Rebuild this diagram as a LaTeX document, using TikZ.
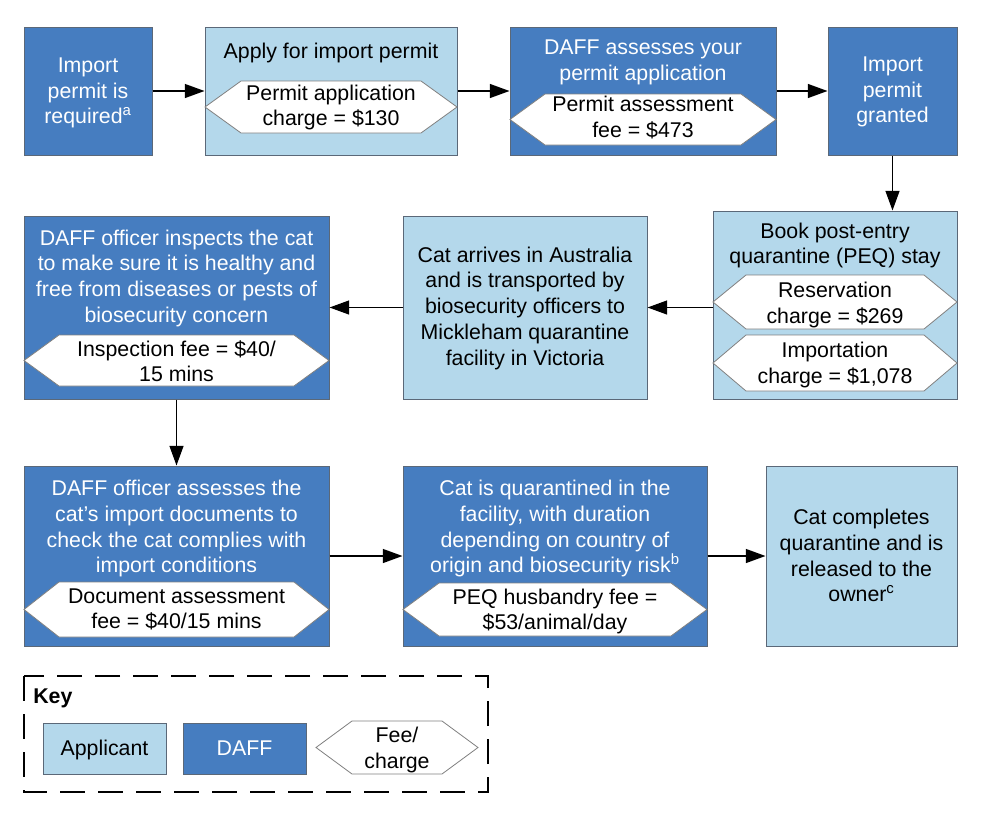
\documentclass[tikz,border=0pt]{standalone}
\usepackage{fontspec}
\setmainfont{Liberation Sans}
\usetikzlibrary{arrows.meta,fit}
\definecolor{daff}{HTML}{467DC0}
\definecolor{appl}{HTML}{B4D8EB}
\definecolor{bord}{HTML}{5B6878}
\definecolor{hexb}{HTML}{808080}
\newcommand\fs{\fontsize{16}{19.3}\selectfont}
\newcommand\fst{\rule{0pt}{13.51pt}}
\def\sh{15}
% x1, y1, x2, y2, inset
\newcommand\hexfee[5]{%
  \draw[hexs] (#1,{(#2+#4)/2}) -- (#1+#5,#2) -- (#3-#5,#2) -- (#3,{(#2+#4)/2})
    -- (#3-#5,#4) -- (#1+#5,#4) -- cycle;}
\begin{document}
\begin{tikzpicture}[x=0.75pt,y=-0.75pt,
  dbox/.style={draw=bord, line width=0.75pt, fill=daff, inner sep=0pt},
  abox/.style={draw=bord, line width=0.75pt, fill=appl, inner sep=0pt},
  hexs/.style={draw=hexb, line width=0.6pt, fill=white},
  tx/.style={anchor=north, inner sep=0pt, align=center, font=\fs, execute at begin node=\fst},
  wt/.style={tx, text=white},
  bt/.style={tx, text=black},
  flow/.style={line width=1.1pt, -{Triangle[length=14.8pt,width=10.5pt]}}]
\fill[white] (0,0) rectangle (982,821);
\useasboundingbox (0,0) rectangle (982,821);

% ---------- row 1 ----------
\node[dbox, fit={(24,27)(152,155)}] (A) {};
\node[abox, fit={(205,27)(457,155)}] (B) {};
\node[dbox, fit={(510,27)(776,155)}] (C) {};
\node[dbox, fit={(828,27)(957,155)}] (D) {};
% ---------- row 2 ----------
\node[abox, fit={(713,211)(957,399)}] (E) {};
\node[abox, fit={(403,216)(647,399)}] (F) {};
\node[dbox, fit={(24,216)(329,399)}] (G) {};
% ---------- row 3 ----------
\node[dbox, fit={(24,466)(329,646)}] (H) {};
\node[dbox, fit={(403,466)(707,646)}] (I) {};
\node[abox, fit={(766,466)(957,646)}] (J) {};

% hexagons
\hexfee{205}{81}{457}{133}{36}
\hexfee{510}{94}{776}{145}{35}
\hexfee{713}{275}{957}{329}{33}
\hexfee{713}{335}{957}{391}{33}
\hexfee{24}{335}{329}{386}{35}
\hexfee{24}{582}{329}{637}{35}
\hexfee{403}{583}{707}{636}{36}

% texts
\node[wt] (tA) at (88,72.5-\sh) {Import\\permit is\\required\textsuperscript{a}};
\node[bt] (tB) at (331,55-\sh) {Apply for import permit};
\node[bt] (hB) at (331,99.5-\sh) {Permit application\\charge = \$130};
\node[wt] (tC) at (643,55-\sh) {DAFF assesses your\\permit application};
\node[bt] (hC) at (643,111-\sh) {Permit assessment\\fee = \$473};
\node[wt] (tD) at (892.5,71.5-\sh) {Import\\permit\\granted};
\node[bt] (tE) at (835,237.3-\sh) {Book post-entry\\quarantine (PEQ) stay};
\node[bt] (hE1) at (835,296.7-\sh) {Reservation\\charge = \$269};
\node[bt] (hE2) at (835,357-\sh) {Importation\\charge = \$1,078};
\node[bt] (tF) at (525,261.5-\sh) {Cat arrives in Australia\\and is transported by\\biosecurity officers to\\Mickleham quarantine\\facility in Victoria};
\node[wt] (tG) at (176.5,244.3-\sh) {DAFF officer inspects the cat\\to make sure it is healthy and\\free from diseases or pests of\\biosecurity concern};
\node[bt] (hG) at (176.5,355-\sh) {Inspection fee = \$40/\\15 mins};
\node[wt] (tH) at (176.5,495-\sh) {DAFF officer assesses the\\cat’s import documents to\\check the cat complies with\\import conditions};
\node[bt] (hH) at (176.5,603.3-\sh) {Document assessment\\fee = \$40/15 mins};
\node[wt] (tI) at (555,495-\sh) {Cat is quarantined in the\\facility, with duration\\depending on country of\\origin and biosecurity risk\textsuperscript{b}};
\node[bt] (hI) at (555,603.3-\sh) {PEQ husbandry fee =\\\$53/animal/day};
\node[bt] (tJ) at (861.5,524-\sh) {Cat completes\\quarantine and is\\released to the\\owner\textsuperscript{c}};

% connectors
\draw[flow] (A) -- (B);
\draw[flow] (B) -- (C);
\draw[flow] (C) -- (D);
\draw[flow] (D.south) -- (D.south |- E.north);
\draw[flow] (E.west |- F.east) -- (F.east);
\draw[flow] (F) -- (G);
\draw[flow] (G) -- (H);
\draw[flow] (H) -- (I);
\draw[flow] (I) -- (J);

% key
\draw[line width=1pt, dash pattern=on 18.75pt off 9.75pt] (24,676) rectangle (488,792);
\node[anchor=base west, inner sep=0pt, font=\fs\bfseries] (kt) at (33,703) {Key};
\node[abox, fit={(43,723)(166,774)}] (kA) {};
\node[dbox, fit={(183,723)(306,774)}] (kD) {};
\node[anchor=base, inner sep=0pt, font=\fs] (kAt) at (104.5,755.7) {Applicant};
\node[anchor=base, inner sep=0pt, font=\fs, text=white] (kDt) at (244.5,755.7) {DAFF};
\hexfee{316}{721}{478}{774}{36}
\node[bt] (kHt) at (397,741.7-\sh) {Fee/\\charge};
\end{tikzpicture}
\end{document}
